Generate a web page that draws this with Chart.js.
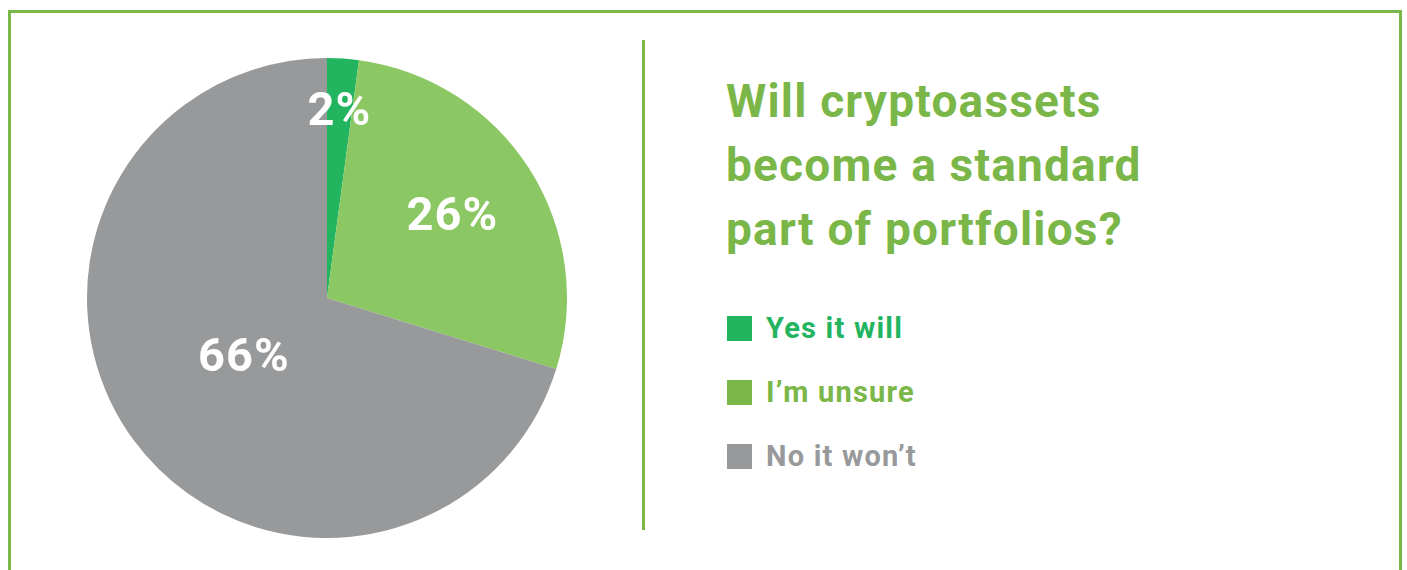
<!DOCTYPE html>
<html>
<head>
<meta charset="utf-8">
<script src="https://cdn.jsdelivr.net/npm/chart.js@4"></script>
<style>
    html, body { margin: 0; padding: 0; background: #fff; width: 1407px; height: 570px; overflow: hidden; }
    body { position: relative; font-family: Roboto, "Noto Sans", sans-serif; }
    #frame { position: absolute; left: 8px; top: 10px; width: 1388px; height: 600px; border: 3px solid #7ab648; }
    #pieBox { position: absolute; left: 87px; top: 58px; width: 480px; height: 480px; }
    #divider { position: absolute; left: 642px; top: 40px; width: 3px; height: 490px; background: #7ab648; }
    #title { position: absolute; left: 726px; top: 69px; margin: 0; font-weight: 700; font-size: 46px; line-height: 64px; color: #7ab648; letter-spacing: 1.2px; }
    #legend { position: absolute; left: 727px; top: 296px; margin: 0; padding: 0; list-style: none; }
    #legend li { height: 64px; display: flex; align-items: center; font-weight: 700; font-size: 29px; letter-spacing: 1.2px; }
    #legend span.box { display: inline-block; width: 25px; height: 25px; margin-right: 14px; }
</style>
</head>
<body>
<div id="frame"></div>
<div id="pieBox"><canvas id="myChart"></canvas></div>
<div id="divider"></div>
<h1 id="title"></h1>
<ul id="legend"></ul>
<script>
const titleLines = ['Will cryptoassets', 'become a standard', 'part of portfolios?'];
const answers = ['Yes it will', 'I\u2019m unsure', 'No it won\u2019t'];
const shares = [2, 26, 66];
const sliceColors = ['#23b45f', '#8bc763', '#97999b'];
const keyColors = ['#23b45f', '#7ab648', '#97999b'];

// where each percentage sits inside its slice, as a fraction of the radius
const labelRadius = [0.77, 0.62, 0.43];

const sliceLabels = {
    id: 'sliceLabels',
    afterDatasetsDraw(chart) {
        const ctx = chart.ctx;
        const arcs = chart.getDatasetMeta(0).data;
        ctx.save();
        ctx.fillStyle = '#ffffff';
        ctx.font = 'bold 47px Roboto';
        ctx.letterSpacing = '1px';
        ctx.textAlign = 'center';
        ctx.textBaseline = 'middle';
        arcs.forEach(function (arc, i) {
            var p = arc.getProps(['x', 'y', 'startAngle', 'endAngle', 'outerRadius'], true);
            var mid = (p.startAngle + p.endAngle) / 2;
            var r = p.outerRadius * labelRadius[i];
            ctx.fillText(shares[i] + '%', p.x + Math.cos(mid) * r, p.y + Math.sin(mid) * r);
        });
        ctx.restore();
    }
};

function drawText() {
    document.getElementById('title').innerHTML = titleLines.join('<br>');
    var legend = document.getElementById('legend');
    answers.forEach(function (a, i) {
        var li = document.createElement('li');
        li.style.color = keyColors[i];
        li.innerHTML = '<span class="box" style="background:' + keyColors[i] + '"></span>' + a;
        legend.appendChild(li);
    });
}

function createChart() {
    var ctx = document.getElementById('myChart').getContext('2d');
    new Chart(ctx, {
        type: 'pie',
        data: {
            labels: answers,
            datasets: [{
                data: shares,
                backgroundColor: sliceColors,
                borderWidth: 0
            }]
        },
        options: {
            responsive: true,
            maintainAspectRatio: false,
            animation: false,
            layout: { padding: 0 },
            plugins: {
                legend: { display: false },
                tooltip: { enabled: false }
            }
        },
        plugins: [sliceLabels]
    });
}

drawText();
createChart();
</script>
</body>
</html>
